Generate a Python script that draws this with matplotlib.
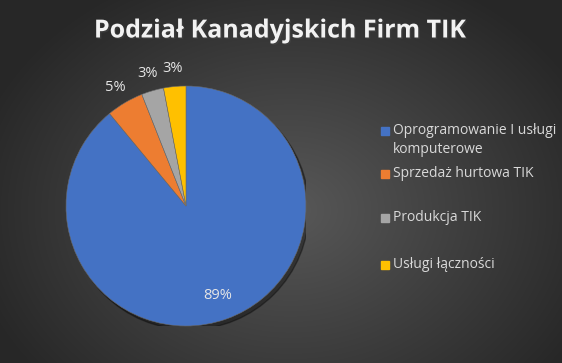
import numpy as np
import matplotlib.pyplot as plt
import matplotlib.patheffects as pe
from matplotlib.patches import Circle, Rectangle

plt.rcParams['font.family'] = ['Open Sans', 'DejaVu Sans']

title = "Podział Kanadyjskich Firm TIK"
categories = ["Oprogramowanie I usługi\nkomputerowe", "Sprzedaż hurtowa TIK",
              "Produkcja TIK", "Usługi łączności"]
shares = [89, 5, 3, 3]
colors = ["#4472C4", "#ED7D31", "#A5A5A5", "#FFC000"]

W, H = 562, 363
fig = plt.figure(figsize=(W / 100, H / 100), dpi=100)

# background: radial grey gradient
bg = fig.add_axes([0, 0, 1, 1])
yy, xx = np.mgrid[0:H, 0:W]
d = np.sqrt(((xx - 290) / 330.0) ** 2 + ((yy - 210) / 260.0) ** 2)
d = np.clip(d, 0, 1)
inner, outer = np.array([0x58, 0x58, 0x58]) / 255, np.array([0x27, 0x27, 0x27]) / 255
img = inner + (outer - inner) * d[..., None]
bg.imshow(img, extent=[0, W, H, 0], aspect='auto')
bg.set_axis_off()

# pie axes
cx, cy, r = 186, 206, 120
ax = fig.add_axes([(cx - r) / W, (H - cy - r) / H, 2 * r / W, 2 * r / H])
ax.add_patch(Circle((0.025, -0.03), 1.0, color='black', alpha=0.35, zorder=0))
wedges, texts, autotexts = ax.pie(shares, colors=colors, startangle=90,
                                  counterclock=False, autopct='%1.0f%%',
                                  textprops=dict(color='#e6e6e6', fontsize=10.5),
                                  wedgeprops=dict(linewidth=0.4, edgecolor='#6a6a6a'))
for w, t in zip(wedges, autotexts):
    ang = np.deg2rad((w.theta1 + w.theta2) / 2)
    dist = 0.79 if (w.theta2 - w.theta1) > 180 else 1.15
    t.set_position((dist * np.cos(ang), dist * np.sin(ang)))
ax.set_xlim(-1, 1)
ax.set_ylim(-1, 1)
ax.set_axis_off()

fig.text(280 / W, 1 - 31 / H, title, ha='center', va='center', fontsize=18,
         fontweight='bold', color='#f2f2f2',
         path_effects=[pe.withSimplePatchShadow(offset=(1, -1), alpha=0.5)])

# legend
leg_y = [131, 174, 218, 265]
for lab, col, y in zip(categories, colors, leg_y):
    fig.patches.append(Rectangle((381 / W, 1 - (y + 4) / H), 8 / W, 8 / H,
                                 transform=fig.transFigure, color=col, figure=fig))
    fig.text(393 / W, 1 - (y - 8) / H, lab, ha='left', va='top', fontsize=10,
             color='#d9d9d9', linespacing=1.35)

fig.savefig('out.png', dpi=100)
